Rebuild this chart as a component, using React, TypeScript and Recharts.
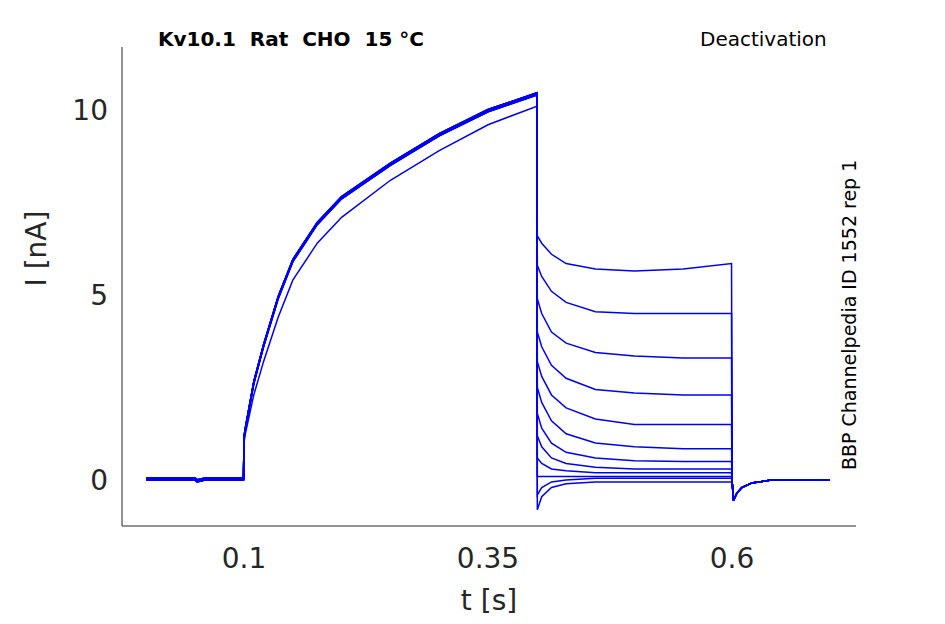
import React from 'react'
import { LineChart, Line, XAxis, YAxis } from 'recharts'

// activation phase (shared by all sweeps)
const actT = [0, 0.05, 0.052, 0.06, 0.0995, 0.1, 0.101, 0.11, 0.12, 0.135, 0.15, 0.175, 0.2, 0.25, 0.3, 0.35, 0.4]
const actV = [0, 0, -0.05, 0, 0, 1.1, 1.3, 2.6, 3.6, 4.9, 5.9, 6.9, 7.6, 8.5, 9.3, 9.95, 10.4]
const actVLow = [0, 0, -0.05, 0, 0, 1.0, 1.2, 2.3, 3.2, 4.4, 5.4, 6.4, 7.1, 8.1, 8.9, 9.6, 10.1]

// deactivation phase, per sweep
const deT = [0.4005, 0.405, 0.415, 0.43, 0.46, 0.5, 0.55, 0.5995]
const deV = [
  [6.6, 6.4, 6.1, 5.85, 5.7, 5.65, 5.7, 5.85],
  [5.8, 5.5, 5.1, 4.8, 4.55, 4.5, 4.5, 4.5],
  [4.9, 4.5, 4.0, 3.7, 3.45, 3.35, 3.3, 3.3],
  [4.0, 3.6, 3.1, 2.75, 2.45, 2.35, 2.3, 2.3],
  [3.2, 2.8, 2.3, 1.95, 1.65, 1.5, 1.5, 1.5],
  [2.5, 2.1, 1.6, 1.25, 1.0, 0.9, 0.85, 0.85],
  [1.8, 1.4, 1.0, 0.75, 0.6, 0.52, 0.5, 0.5],
  [1.2, 0.9, 0.6, 0.45, 0.35, 0.3, 0.3, 0.3],
  [0.6, 0.45, 0.3, 0.25, 0.2, 0.2, 0.2, 0.2],
  [0.1, 0.1, 0.1, 0.1, 0.1, 0.1, 0.1, 0.1],
  [-0.4, -0.2, -0.05, 0.0, 0.05, 0.05, 0.05, 0.05],
  [-0.8, -0.45, -0.2, -0.1, -0.05, -0.05, -0.05, -0.05],
]

// tail after step back
const tailT = [0.6, 0.6015, 0.605, 0.61, 0.62, 0.64, 0.7]
const tailV = [0, -0.55, -0.35, -0.2, -0.08, 0, 0]

const xTicks = [0.1, 0.35, 0.6]
const yTicks = [0, 5, 10]

const sweeps = deV.map((dv, i) => {
  const a = i === 0 ? actVLow : actV
  const pts: { t: number; v: number }[] = []
  actT.forEach((t, k) => pts.push({ t, v: a[k] + (i === 0 ? 0 : (i % 3) * 0.03) }))
  deT.forEach((t, k) => pts.push({ t, v: dv[k] }))
  tailT.forEach((t, k) => pts.push({ t, v: tailV[k] }))
  return pts
})

const font = 'DejaVu Sans, sans-serif'

export default function App() {
  return (
    <div style={{ position: 'absolute', left: 0, top: 0, width: 945, height: 624, background: '#fff', fontFamily: font }}>
      <LineChart width={945} height={624} margin={{ top: 47, right: 89, bottom: 0, left: 0 }}>
        <XAxis
          type="number"
          dataKey="t"
          domain={[-0.025, 0.727]}
          ticks={xTicks}
          tickLine={false}
          height={98}
          stroke="#262626"
          tick={{ fill: '#262626', fontSize: 28, fontFamily: font, dy: 14 }}
          label={{ value: 't [s]', position: 'insideBottom', offset: 14, fill: '#262626', fontSize: 28, fontFamily: font }}
        />
        <YAxis
          type="number"
          dataKey="v"
          domain={[-1.24, 11.7]}
          ticks={yTicks}
          tickLine={false}
          width={122}
          stroke="#262626"
          tick={{ fill: '#262626', fontSize: 28, fontFamily: font, dx: -6 }}
          label={{ value: 'I [nA]', angle: -90, position: 'insideLeft', offset: 36, fill: '#262626', fontSize: 28, fontFamily: font }}
        />
        {sweeps.map((d, i) => (
          <Line key={i} data={d} dataKey="v" type="linear" stroke="#0000f0" strokeWidth={1.5} dot={false} isAnimationActive={false} />
        ))}
      </LineChart>
      <div style={{ position: 'absolute', left: 158, top: 27, fontSize: 20, fontWeight: 'bold' }}>Kv10.1&nbsp; Rat&nbsp; CHO&nbsp; 15 °C</div>
      <div style={{ position: 'absolute', left: 700, top: 27, fontSize: 20 }}>Deactivation</div>
      <div style={{ position: 'absolute', left: 838, top: 470, fontSize: 19, transform: 'rotate(-90deg)', transformOrigin: '0 0', whiteSpace: 'nowrap' }}>
        BBP Channelpedia ID 1552 rep 1
      </div>
    </div>
  )
}
